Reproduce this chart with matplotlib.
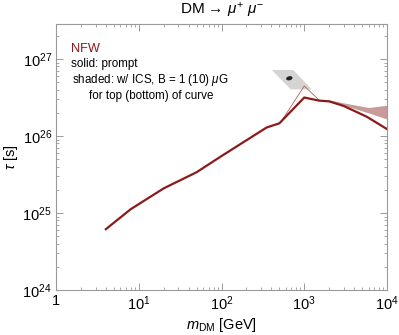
import numpy as np
from matplotlib import pyplot as plt
from matplotlib.patches import Polygon, Ellipse
from matplotlib.ticker import FixedLocator, LogLocator, NullFormatter

plt.rcParams["font.family"] = ["Liberation Sans", "DejaVu Sans"]
plt.rcParams["mathtext.fontset"] = "custom"
plt.rcParams["mathtext.rm"] = "Liberation Sans"
plt.rcParams["mathtext.it"] = "Liberation Sans:italic"

# prompt curve (thick)
m_prompt = [4, 8, 20, 50, 100, 350, 500, 1000, 1500, 2000, 3000, 5700, 10000]
tau_prompt = [10**24.79, 10**25.05, 10**25.32, 10**25.53, 10**25.74, 10**26.11,
              10**26.165, 10**26.50, 10**26.46, 10**26.45, 10**26.39, 10**26.25, 10**26.09]

# thin branch
m_thin = [550, 1000, 1500]
tau_thin = [10**26.22, 10**26.65, 10**26.47]

# shaded ICS band
m_band = [1500, 2000, 3000, 6000, 10000]
band_top = [10**26.47, 10**26.47, 10**26.43, 10**26.37, 10**26.40]
band_bot = [10**26.46, 10**26.45, 10**26.40, 10**26.30, 10**26.22]

# gray region and best-fit point
region_m = [405, 738, 1230, 686]
region_tau = [10**26.857, 10**26.857, 10**26.606, 10**26.606]
point_m, point_tau = 660, 10**26.75

red = "#8c1a1a"
frame = "#9a9a9a"

fig = plt.figure(figsize=(3.99, 3.35), dpi=100)
ax = fig.add_axes([0.1404, 0.1343, 0.8296, 0.7941])
ax.set_xscale("log")
ax.set_yscale("log")
ax.set_xlim(1, 1e4)
ax.set_ylim(1e24, 10**27.455)

ax.add_patch(Polygon(list(zip(region_m, region_tau)), closed=True,
                     facecolor="#d4d4d4", edgecolor="none", zorder=1))
# small slanted dot (size set in axes units)
px, py = ax.transAxes.inverted().transform(ax.transData.transform((point_m, point_tau)))
ax.add_patch(Ellipse((px, py), 0.02, 0.015, angle=25, transform=ax.transAxes,
                     facecolor="#222222", edgecolor="none", zorder=3))

ax.fill_between(m_band, band_bot, band_top, color="#c99a9a", lw=0, zorder=2)
ax.plot(m_thin, tau_thin, color="#b06060", lw=0.6, zorder=3)
ax.plot(m_prompt, tau_prompt, color=red, lw=1.6, zorder=4)

ax.xaxis.set_major_locator(FixedLocator([1, 10, 100, 1000, 10000]))
ax.set_xticklabels(["1", "$10^1$", "$10^2$", "$10^3$", "$10^4$"])
ax.yaxis.set_major_locator(FixedLocator([1e24, 1e25, 1e26, 1e27]))
ax.set_yticklabels(["$10^{24}$", "$10^{25}$", "$10^{26}$", "$10^{27}$"])
for a in (ax.xaxis, ax.yaxis):
    a.set_minor_locator(LogLocator(base=10, subs=np.arange(2, 10), numticks=20))
    a.set_minor_formatter(NullFormatter())

ax.tick_params(which="both", direction="in", top=True, right=True,
               color=frame, labelsize=10.5, pad=3)
ax.tick_params(which="major", length=5, width=0.7)
ax.tick_params(which="minor", length=2.5, width=0.6)
for s in ax.spines.values():
    s.set_color(frame)
    s.set_linewidth(0.8)

ax.set_title("DM \u2192 $\\mu^{+}$ $\\mu^{-}$", fontsize=11, pad=7)
ax.set_xlabel(r"$m_{\rm DM}$ [GeV]", fontsize=10.5, labelpad=2)
ax.set_ylabel(r"$\tau$ [s]", fontsize=10.5, labelpad=2)

ax.text(0.045, 0.905, "NFW", color=red, fontsize=9.2, transform=ax.transAxes,
        va="center")
ax.text(0.045, 0.85, "solid: prompt", fontsize=8.4, transform=ax.transAxes,
        va="center")
ax.text(0.048, 0.79, r"shaded: w/ ICS, B = 1 (10) $\mu$G", fontsize=8.4,
        transform=ax.transAxes, va="center")
ax.text(0.1, 0.73, "for top (bottom) of curve", fontsize=8.4,
        transform=ax.transAxes, va="center")

fig.savefig("out.png", dpi=100)
